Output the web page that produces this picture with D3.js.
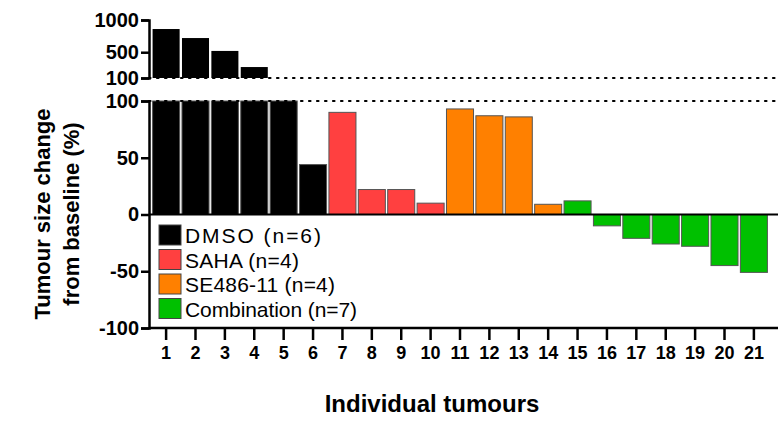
<!DOCTYPE html>
<html><head><meta charset="utf-8">
<script src="https://cdn.jsdelivr.net/npm/d3@7"></script>
<style>body{margin:0;background:#fff}text{font-family:Arial,"Liberation Sans",sans-serif}</style>
</head><body><svg id="c" width="784" height="435"></svg>
<script>
// tumour ids and % change from baseline
var tumours = d3.range(1, 22);
var values = [860, 720, 520, 270, 100, 44, 90, 22, 22, 10, 93, 87, 86, 9, 12, -10, -21, -26, -28, -45, -51];
var groups = ["DMSO","DMSO","DMSO","DMSO","DMSO","DMSO","SAHA","SAHA","SAHA","SAHA",
  "SE","SE","SE","SE","Combo","Combo","Combo","Combo","Combo","Combo","Combo"];
var groupNames = ["Combo","DMSO","SAHA","SE"];
var groupColors = ["#00c000","#000000","#ff4040","#ff8000"];
var legendLabels = ["DMSO (n=6)","SAHA (n=4)","SE486-11 (n=4)","Combination (n=7)"];
var legendColors = ["#000000","#ff4040","#ff8000","#00c000"];
var lowTicks = [-100, -50, 0, 50, 100];
var highTicks = [100, 500, 1000];

var svg = d3.select("#c");
var color = d3.scaleOrdinal(groupNames, groupColors);
var x = d3.scaleBand(tumours, [152, 768]).paddingInner(0.08).paddingOuter(0.02);
var yLow = d3.scaleLinear([-100, 100], [328, 101]);
var yHigh = d3.scaleLinear([100, 1000], [78, 20]);
var axisX = 149;
var fmt = d => String(d).replace("\u2212", "-");

// lower panel bars
svg.append("g").selectAll("rect").data(values).join("rect")
  .attr("x", (d, i) => x(tumours[i]))
  .attr("width", x.bandwidth())
  .attr("y", d => yLow(Math.min(100, Math.max(0, d))))
  .attr("height", d => Math.abs(yLow(Math.min(100, d)) - yLow(0)))
  .attr("fill", (d, i) => color(groups[i]))
  .attr("stroke", "#555").attr("stroke-width", 1);

// upper panel bars
svg.append("g").selectAll("rect").data(values.filter(v => v > 100)).join("rect")
  .attr("x", (d, i) => x(tumours[i]))
  .attr("width", x.bandwidth())
  .attr("y", d => yHigh(d))
  .attr("height", d => yHigh(100) - yHigh(d))
  .attr("fill", "#000");

// dotted lines at 100
[yHigh(100), yLow(100)].forEach(function (yy) {
  svg.append("line").attr("x1", axisX).attr("x2", 778).attr("y1", yy).attr("y2", yy)
    .attr("stroke", "#000").attr("stroke-width", 2.2).attr("stroke-dasharray", "1.5,6.5").attr("stroke-linecap", "round");
});

// zero line
svg.append("line").attr("x1", axisX).attr("x2", 778).attr("y1", yLow(0)).attr("y2", yLow(0))
  .attr("stroke", "#000").attr("stroke-width", 2);

function styleAxis(g) {
  g.selectAll("path,line").attr("stroke", "#000").attr("stroke-width", 2.5);
  g.selectAll("text").attr("font-size", 20).attr("font-weight", "bold").attr("fill", "#000");
}
svg.append("g").attr("transform", "translate(" + axisX + ",0)")
  .call(d3.axisLeft(yLow).tickValues(lowTicks).tickFormat(fmt).tickSize(8).tickPadding(2).tickSizeOuter(8)).call(styleAxis);
svg.append("g").attr("transform", "translate(" + axisX + ",0)")
  .call(d3.axisLeft(yHigh).tickValues(highTicks).tickFormat(fmt).tickSize(8).tickPadding(2).tickSizeOuter(8)).call(styleAxis);

// bottom axis ticks
var gx = svg.append("g").attr("transform", "translate(0,328)")
  .call(d3.axisBottom(x).tickSize(12).tickPadding(6)).call(styleAxis);
gx.select(".domain").remove();
gx.selectAll("text").attr("font-size", 18);
svg.append("line").attr("x1", axisX).attr("x2", 778).attr("y1", 328).attr("y2", 328)
  .attr("stroke", "#000").attr("stroke-width", 2.5);

// legend
var lg = svg.append("g").selectAll("g").data(legendLabels).join("g")
  .attr("transform", (d, i) => "translate(159," + (225 + i * 24.5) + ")");
lg.append("rect").attr("width", 22).attr("height", 20)
  .attr("fill", (d, i) => legendColors[i]).attr("stroke", "#444");
lg.append("text").attr("x", 26).attr("y", 18).attr("font-size", 21).attr("textLength", (d, i) => [136, 114, 150, 172][i]).text(d => d);

// titles
svg.append("text").attr("transform", "translate(50,214) rotate(-90)").attr("text-anchor", "middle")
  .attr("font-size", 22).attr("font-weight", "bold").text("Tumour size change");
svg.append("text").attr("transform", "translate(79,214) rotate(-90)").attr("text-anchor", "middle")
  .attr("font-size", 22).attr("font-weight", "bold").text("from baseline (%)");
svg.append("text").attr("x", 432).attr("y", 412).attr("text-anchor", "middle")
  .attr("font-size", 24).attr("font-weight", "bold").text("Individual tumours");
</script></body></html>
